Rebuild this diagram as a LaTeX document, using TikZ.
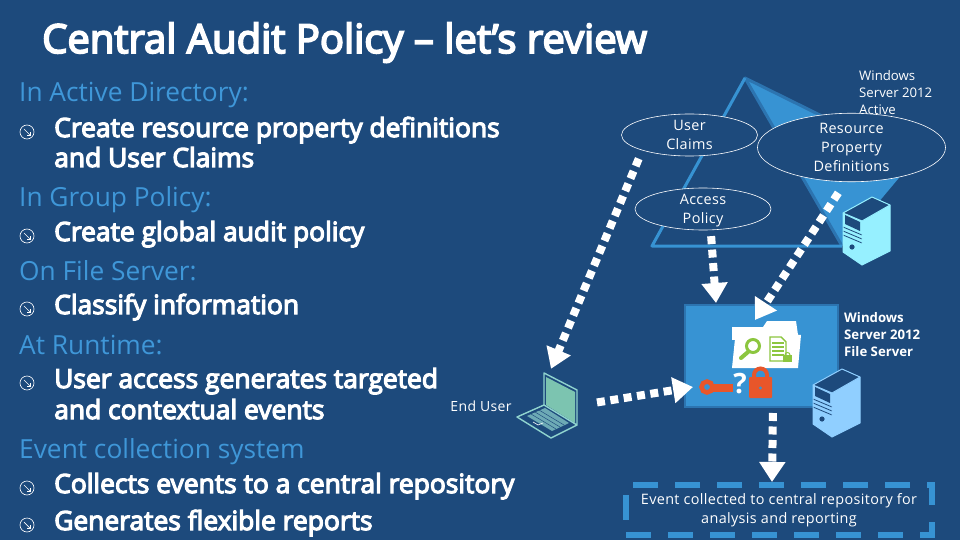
\documentclass[tikz,border=0pt]{standalone}
\usepackage{fontspec}
\setmainfont{Open Sans}
\newfontfamily\pointfont[FakeBold=4.5]{Open Sans}
\newfontfamily\labelfont[LetterSpace=2.5]{Open Sans}
\usepackage{tikz}
\usetikzlibrary{positioning, arrows.meta, shapes.geometric}
\definecolor{slidebg}{HTML}{1D4A7C}
\definecolor{midblue}{HTML}{3793D3}
\definecolor{edgeblue}{HTML}{2C74B0}
\definecolor{headblue}{HTML}{3F97D8}
\definecolor{leafgreen}{HTML}{8CC63F}
\definecolor{alertred}{HTML}{E8562A}
\definecolor{paleaqua}{HTML}{96F0FF}
\definecolor{paleblue}{HTML}{90CFFF}
\definecolor{screengreen}{HTML}{7CC4B0}
\definecolor{framegreen}{HTML}{8FD3CE}

\begin{document}
\begin{tikzpicture}[
  x=1pt, y=-1pt,
  every node/.style={text=white, inner sep=0pt},
  heading/.style={anchor=base west, text=headblue, font=\fontsize{26.3}{30}\selectfont},
  point/.style={anchor=base west, font=\pointfont\fontsize{26.4}{30}\selectfont},
  smalltext/.style={font=\labelfont\fontsize{14.4}{19}\selectfont, align=center},
  oval/.style={ellipse, draw=white, fill=slidebg, line width=0.6pt, smalltext},
  flowline/.style={draw=white, line width=8pt, dash pattern=on 8pt off 5.5pt,
    -{Triangle[length=20pt, width=25pt]}}
]
% background
\fill[slidebg] (0,0) rectangle (960,540);

% title
\node[anchor=base west, font=\pointfont\fontsize{40}{42}\selectfont] (slidetitle) at (42,53) {Central Audit Policy – let’s review};

% left column: headings
\foreach \ypos/\nm/\txt in {102/adhead/In Active Directory:, 206/gphead/In Group Policy:, 280/fshead/On File Server:, 354/rthead/At Runtime:, 458/echead/Event collection system}
  \node[heading] (\nm) at (19,\ypos) {\txt};

% left column: points
\foreach \ypos/\nm/\txt in {137/adpointa/Create resource property definitions, 167/adpointb/and User Claims, 241/gppoint/Create global audit policy, 314/fspoint/Classify information, 388/rtpointa/User access generates targeted, 419/rtpointb/and contextual events, 493/ecpointa/Collects events to a central repository, 530/ecpointb/Generates flexible reports}
  \node[point] (\nm) at (54,\ypos) {\txt};

% bullets
\foreach \ypos in {132,236,309,383,488,525} {
  \draw[white, line width=0.6pt] (27,\ypos) circle (7);
  \draw[white, line width=0.7pt, -{Straight Barb[length=2.5pt, width=5pt]}] (24,\ypos-3) -- (31,\ypos+4);
}

% server: (left, top, colour)
\def\serverbox#1#2#3{%
  \begin{scope}[shift={(#1,#2)}]
    \fill[#3] (0,16) -- (19,24) -- (19,68) -- (0,55) -- cycle;
    \fill[#3] (19,24) -- (47,8) -- (47,54) -- (19,68) -- cycle;
    \fill[slidebg] (0,16) -- (29,0) -- (47,8) -- (19,24) -- cycle;
    \fill[slidebg] (2,18) -- (17,25) -- (17,34) -- (2,27) -- cycle;
    \draw[slidebg, line width=0.8pt] (0,30) -- (19,38) (0,34) -- (19,42) (0,38) -- (19,46);
    \fill[slidebg] (9,50) circle (2.6);
    \draw[#3, line width=1pt, line join=round] (0,16) -- (29,0) -- (47,8) -- (47,54) -- (19,68) -- (0,55) -- cycle;
    \draw[#3, line width=1pt] (0,16) -- (19,24) -- (47,8) (19,24) -- (19,68);
  \end{scope}
}

% triangle
\fill[midblue] (745,78) -- (913,161) -- (842,246) -- cycle;
\draw[edgeblue, line width=3pt, line join=round] (913,161) -- (745,78) -- (842,246);
\draw[midblue, line width=3pt, line join=round] (842,246) -- (652,246) -- (745,78);
\serverbox{843}{197}{paleaqua}

\node[anchor=north west, align=left, font=\fontsize{13.2}{17}\selectfont] (adserver) at (859,70) {Windows\\Server 2012\\Active};

% claims
\node[oval, minimum width=136pt, minimum height=42pt] (userclaims) at (689.5,135) {User\\Claims};
\node[oval, minimum width=136pt, minimum height=42pt] (accesspolicy) at (703,209) {Access\\\smash{Policy}};
\node[oval, minimum width=188pt, minimum height=65pt] (resourceprops) at (851.5,147.5) {Resource\\Property\\Definitions};

% file server
\node[draw=edgeblue, fill=midblue, line width=1.5pt, minimum width=153pt, minimum height=102pt] (filebox) at (761.5,356) {};
\node[anchor=north west, align=left, font=\fontsize{13.2}{17}\selectfont\bfseries] (fileserver) at (844,312) {Windows\\Server 2012\\File Server};
\serverbox{813}{369}{paleblue}

% folder
\fill[white] (732,327) -- (763,327) -- (767,321) -- (796,321) -- (798,335) -- (732,340) -- cycle;
\fill[white] (736,329) -- (801,335) -- (798,368) -- (732,368) -- cycle;
\draw[leafgreen, line width=3pt] (753,346) circle (6.5);
\draw[leafgreen, line width=4pt, line cap=round] (748,352) -- (741,358);
\draw[leafgreen, line width=1.4pt] (770,337) -- (781,337) -- (786,342) -- (786,361) -- (770,361) -- cycle;
\foreach \ypos in {343,347,351,355} \draw[leafgreen, line width=1.2pt] (772,\ypos) -- (784,\ypos);
\fill[leafgreen] (783,355) rectangle (792,362);
\draw[leafgreen, line width=1pt] (787.5,355) circle (2.5);

% key, question, lock
\draw[alertred, line width=4.5pt] (707,387) circle (5.5);
\fill[alertred] (712,384) rectangle (733,392);
\node[font=\fontsize{28}{30}\selectfont\bfseries] (querymark) at (740,384) {?};
\fill[alertred, rounded corners=1pt] (749,377) rectangle (772,398);
\draw[alertred, line width=4pt] (754,378) -- (754,375) arc[start angle=180, end angle=360, radius=6.5] -- (767,378);
\fill[midblue] (760.5,388) circle (1.6);

% end user
\node[font=\labelfont\fontsize{14}{16}\selectfont] (enduser) at (481,406.5) {End User};
\node[minimum width=60pt, minimum height=72pt] (laptopicon) at (551,405) {};
\fill[screengreen] (546,377) -- (575,392) -- (575,423) -- (546,405) -- cycle;
\draw[framegreen, line width=1.4pt, line join=round] (544,373) -- (577,390) -- (577,425) -- (544,405) -- cycle;
\draw[framegreen, line width=1.4pt, line join=round] (544,405) -- (517,417) -- (551,438) -- (577,425);
\fill[framegreen!70!slidebg] (527,416) -- (545,408) -- (569,423) -- (552,431) -- cycle;
\draw[slidebg, line width=0.5pt] (531,414) -- (556,429) (535,412) -- (560,427) (539,410) -- (564,425);
\draw[white, line width=0.6pt] (533,422) -- (538,425) -- (543,423);

% event box
\node[draw=midblue, line width=6pt, dash pattern=on 25pt off 17pt, smalltext, minimum width=306pt, minimum height=50pt] (eventbox) at (779,510) {Event collected to central repository for\\analysis and \smash{reporting}};

% arrows
\coordinate (policytip) at (716,303);
\coordinate (servertip) at (755,320);
\coordinate (keytip) at (693,387);
\coordinate (fileout) at (773,407);
\coordinate (eventtip) at (772,482);
\draw[flowline, shorten <=9pt] (userclaims.198) -- (laptopicon.north);
\draw[flowline, shorten <=6pt] (accesspolicy.-70) -- (policytip);
\draw[flowline, shorten <=13pt] (resourceprops.-100) -- (servertip);
\draw[flowline, shorten <=16pt] (laptopicon.east) -- (keytip);
\draw[flowline, shorten <=6pt] (fileout) -- (eventtip);
\end{tikzpicture}
\end{document}
